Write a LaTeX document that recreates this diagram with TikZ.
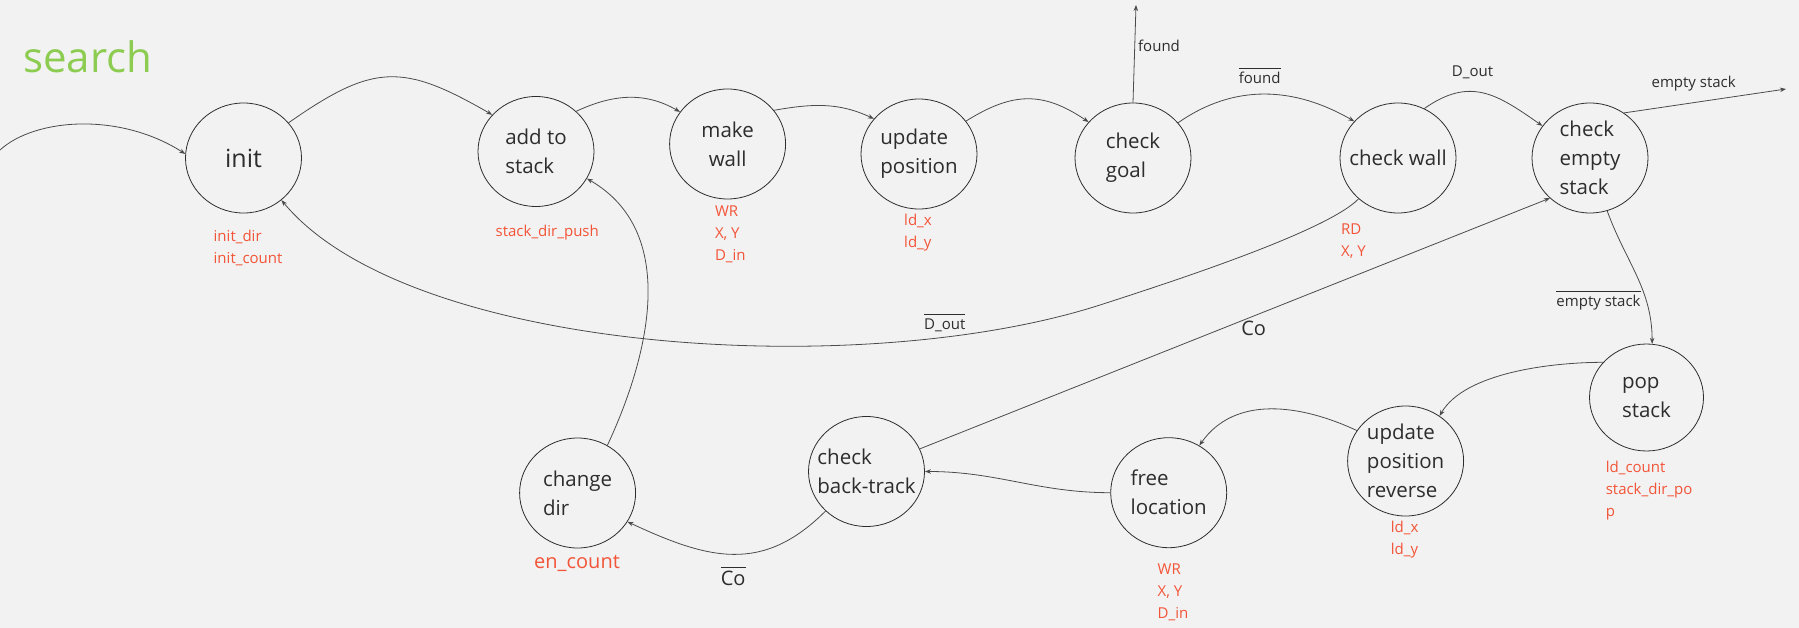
\documentclass[tikz,border=0pt]{standalone}
\usepackage{fontspec}
\setmainfont{Open Sans}
\usetikzlibrary{arrows.meta,positioning,shapes.geometric}
\definecolor{ink}{RGB}{45,45,45}
\definecolor{wire}{RGB}{75,75,75}
\definecolor{signal}{RGB}{242,84,56}
\definecolor{lime}{RGB}{140,204,80}
\definecolor{paper}{RGB}{242,242,242}
\newcommand{\negsig}[1]{\vbox{\hrule height 0.7pt\kern 4pt\hbox{#1}}}
\tikzset{
  >={Stealth[length=6pt,width=4.5pt]},
  state/.style={ellipse,draw=ink,line width=0.8pt,minimum width=116pt,minimum height=110pt,
    inner xsep=-20pt,inner ysep=0pt,align=left,text=ink,font=\fontsize{20.5}{29}\selectfont},
  flow/.style={->,line width=0.8pt,draw=wire},
  vars/.style={anchor=north west,inner sep=0pt,align=left,text=signal,font=\fontsize{15}{22}\selectfont},
  cond/.style={inner sep=2pt,text=ink,font=\fontsize{15}{18}\selectfont},
}
\begin{document}
\begin{tikzpicture}[x=1pt,y=-1pt]
  \fill[paper] (0,0) rectangle (1799,628);
  \useasboundingbox (0,0) rectangle (1799,628);
  \node[anchor=base west,inner sep=0pt,text=lime,font=\fontsize{42}{50}\selectfont] (title) at (23,73) {search};
  % states
  \node[state,font=\fontsize{25}{30}\selectfont] (init) at (243.5,158) {init};
  \node[state] (push) at (536,151.5) {add to\\stack};
  \node[state,align=center] (wall) at (727.6,144) {make\\wall};
  \node[state] (upd) at (919,154) {update\\position};
  \node[state] (goal) at (1133,158) {check\\goal};
  \node[state] (chkwall) at (1398,158) {check wall};
  \node[state] (chkempty) at (1590,158) {check\\empty\\stack};
  \node[state,minimum width=114pt,minimum height=107pt] (pop) at (1646.5,397.5) {pop\\stack};
  \node[state] (updrev) at (1405.6,461) {update\\position\\reverse};
  \node[state] (free) at (1168.7,492.7) {free\\location};
  \node[state] (back) at (866.5,471.5) {check\\back-track};
  \node[state] (chdir) at (577.6,493) {change\\dir};
  % signals
  \node[vars] (initvars) at (213.5,229.5) {init\_dir\\init\_count};
  \node[vars] (pushvars) at (495.5,225) {stack\_dir\_push};
  \node[vars] (wallvars) at (714.8,205.6) {WR\\X, Y\\D\_in};
  \node[vars] (updvars) at (904,213.5) {ld\_x\\ld\_y};
  \node[vars] (chkwallvars) at (1341,223.6) {RD\\X, Y};
  \node[vars] (popvars) at (1605.6,461) {ld\_count\\stack\_dir\_po\\p};
  \node[vars] (updrevvars) at (1390.6,520.5) {ld\_x\\ld\_y};
  \node[vars] (freevars) at (1157.5,563.6) {WR\\X, Y\\D\_in};
  \node[vars,anchor=center,font=\fontsize{20}{24}\selectfont] (chdirvars) at (577,563) {en\_count};
  % transitions
  \coordinate (entry) at (0,150);
  \coordinate (foundout) at (1136,5);
  \coordinate (stackout) at (1786,89);
  \draw[flow] (entry) .. controls (35,118) and (120,112) .. (init.176);
  \draw[flow] (init.38) to[out=35,in=150,looseness=1.3] (push.140);
  \draw[flow] (push.45) to[out=25,in=150] (wall.146);
  \draw[flow] (wall.36) to[out=10,in=155] (upd.142);
  \draw[flow] (upd.35) to[out=32,in=146,looseness=1.15] (goal.141);
  \draw[flow] (goal.north) -- node[cond,pos=0.58,right=1pt] {found} (foundout);
  \draw[flow] (goal.38) to[out=35,in=150] node[cond,pos=0.47,above=8pt] {\negsig{found}} (chkwall.140);
  \draw[flow] (chkwall.62) to[out=35,in=145,looseness=1.2] node[cond,pos=0.4,above=10pt] {D\_out} (chkempty.146);
  \draw[flow] (chkempty.53) -- node[cond,pos=0.43,above=9pt] {empty stack} (stackout);
  \draw[flow] (chkempty.-72) to[out=-70,in=90] node[cond,pos=0.7,left=3pt] {\negsig{empty stack}} (pop.84);
  \draw[flow] (pop.141) to[out=180,in=60,looseness=0.75] (updrev.53);
  \draw[flow] (updrev.148) to[out=155,in=55] (free.57);
  \draw[flow] (free.west) to[out=180,in=0] (back.east);
  \draw[flow] (back.23) -- node[cond,pos=0.53,below=3pt,font=\fontsize{20}{24}\selectfont] {Co} (chkempty.225);
  \draw[flow] (back.224) to[out=-135,in=-25,looseness=1.15] node[cond,below=10pt,font=\fontsize{20}{24}\selectfont] {\negsig{Co}} (chdir.-30);
  \draw[flow] (chdir.58) to[out=65,in=-30] (push.-28);
  \draw[flow] (chkwall.226) .. controls (1327.5,230.9) and (1176,280.5) .. (1100,305)
    .. controls (862,381.5) and (409,354) .. node[cond,pos=0.19,above=3pt] {\negsig{D\_out}} (init.312);
\end{tikzpicture}
\end{document}
